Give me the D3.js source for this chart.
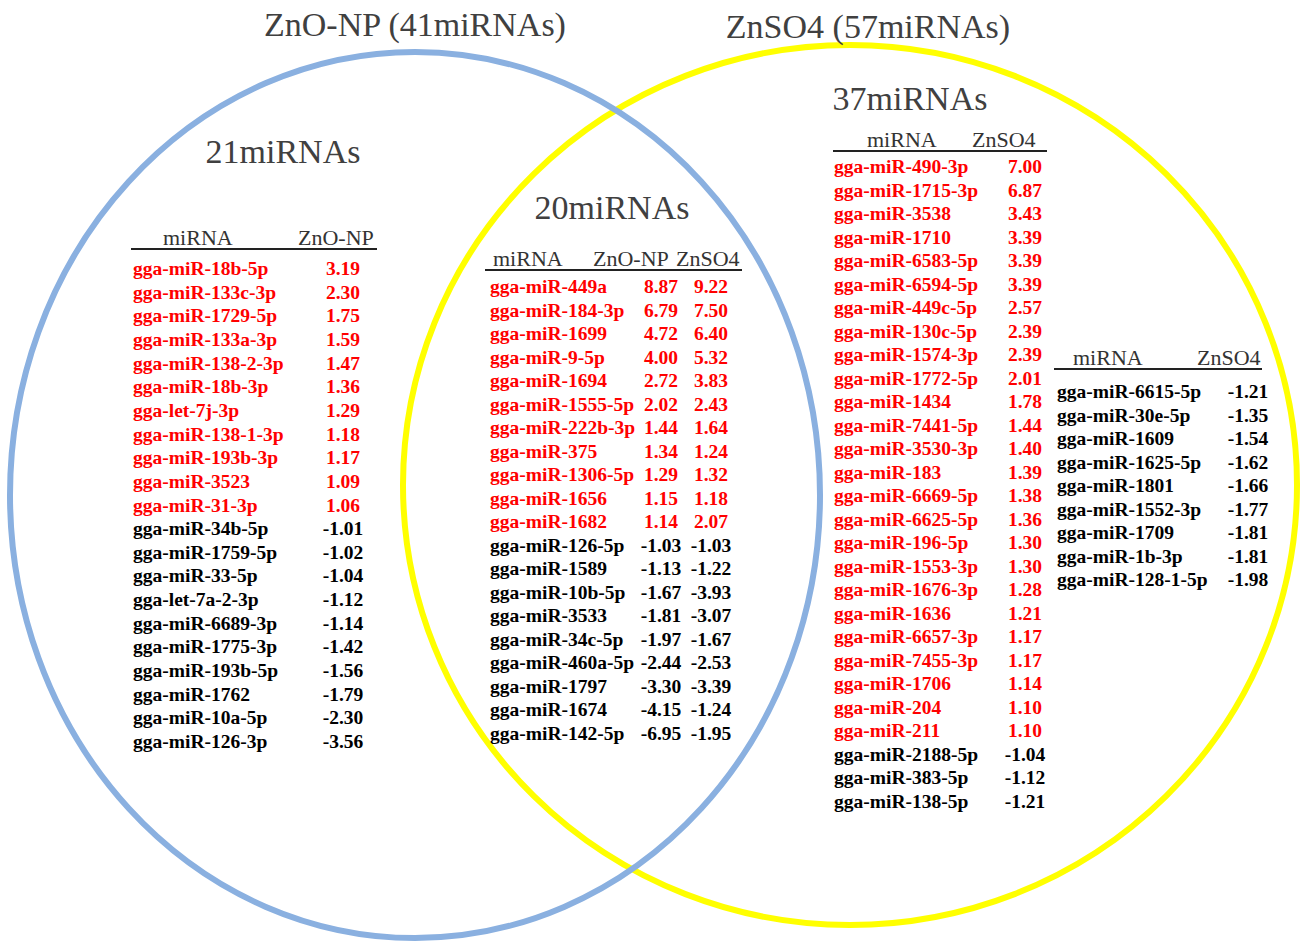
<!DOCTYPE html>
<meta charset="utf-8">
<style>
    body { margin: 0; background: #fff; }
    svg text { font-family: "Liberation Serif", "Times New Roman", serif; }
    .big { font-size: 34px; fill: #404040; }
    .hdr { font-size: 22px; fill: #333; }
    .row { font-size: 19.5px; font-weight: bold; }
</style>
<svg width="1309" height="943"></svg>
<script src="https://d3js.org/d3.v7.min.js"></script>
<script>
    // ZnO-NP only (21)
    var znoNames = ["gga-miR-18b-5p", "gga-miR-133c-3p", "gga-miR-1729-5p", "gga-miR-133a-3p", "gga-miR-138-2-3p",
        "gga-miR-18b-3p", "gga-let-7j-3p", "gga-miR-138-1-3p", "gga-miR-193b-3p", "gga-miR-3523", "gga-miR-31-3p",
        "gga-miR-34b-5p", "gga-miR-1759-5p", "gga-miR-33-5p", "gga-let-7a-2-3p", "gga-miR-6689-3p", "gga-miR-1775-3p",
        "gga-miR-193b-5p", "gga-miR-1762", "gga-miR-10a-5p", "gga-miR-126-3p"];
    var znoFC = ["3.19", "2.30", "1.75", "1.59", "1.47", "1.36", "1.29", "1.18", "1.17", "1.09", "1.06",
        "-1.01", "-1.02", "-1.04", "-1.12", "-1.14", "-1.42", "-1.56", "-1.79", "-2.30", "-3.56"];

    // shared (20)
    var sharedNames = ["gga-miR-449a", "gga-miR-184-3p", "gga-miR-1699", "gga-miR-9-5p", "gga-miR-1694", "gga-miR-1555-5p",
        "gga-miR-222b-3p", "gga-miR-375", "gga-miR-1306-5p", "gga-miR-1656", "gga-miR-1682", "gga-miR-126-5p",
        "gga-miR-1589", "gga-miR-10b-5p", "gga-miR-3533", "gga-miR-34c-5p", "gga-miR-460a-5p", "gga-miR-1797",
        "gga-miR-1674", "gga-miR-142-5p"];
    var sharedZnO = ["8.87", "6.79", "4.72", "4.00", "2.72", "2.02", "1.44", "1.34", "1.29", "1.15", "1.14",
        "-1.03", "-1.13", "-1.67", "-1.81", "-1.97", "-2.44", "-3.30", "-4.15", "-6.95"];
    var sharedZnSO4 = ["9.22", "7.50", "6.40", "5.32", "3.83", "2.43", "1.64", "1.24", "1.32", "1.18", "2.07",
        "-1.03", "-1.22", "-3.93", "-3.07", "-1.67", "-2.53", "-3.39", "-1.24", "-1.95"];

    // ZnSO4 only (37) - first column
    var znso4Names = ["gga-miR-490-3p", "gga-miR-1715-3p", "gga-miR-3538", "gga-miR-1710", "gga-miR-6583-5p",
        "gga-miR-6594-5p", "gga-miR-449c-5p", "gga-miR-130c-5p", "gga-miR-1574-3p", "gga-miR-1772-5p", "gga-miR-1434",
        "gga-miR-7441-5p", "gga-miR-3530-3p", "gga-miR-183", "gga-miR-6669-5p", "gga-miR-6625-5p", "gga-miR-196-5p",
        "gga-miR-1553-3p", "gga-miR-1676-3p", "gga-miR-1636", "gga-miR-6657-3p", "gga-miR-7455-3p", "gga-miR-1706",
        "gga-miR-204", "gga-miR-211", "gga-miR-2188-5p", "gga-miR-383-5p", "gga-miR-138-5p"];
    var znso4FC = ["7.00", "6.87", "3.43", "3.39", "3.39", "3.39", "2.57", "2.39", "2.39", "2.01", "1.78",
        "1.44", "1.40", "1.39", "1.38", "1.36", "1.30", "1.30", "1.28", "1.21", "1.17", "1.17", "1.14",
        "1.10", "1.10", "-1.04", "-1.12", "-1.21"];

    // ZnSO4 only - second column
    var znso4DownNames = ["gga-miR-6615-5p", "gga-miR-30e-5p", "gga-miR-1609", "gga-miR-1625-5p", "gga-miR-1801",
        "gga-miR-1552-3p", "gga-miR-1709", "gga-miR-1b-3p", "gga-miR-128-1-5p"];
    var znso4DownFC = ["-1.21", "-1.35", "-1.54", "-1.62", "-1.66", "-1.77", "-1.81", "-1.81", "-1.98"];

    var sets = [
        {name: "ZnSO4 (57miRNAs)", cx: 850, cy: 485, rx: 447, ry: 440, color: "#ffff00", tx: 868, ty: 38},
        {name: "ZnO-NP (41miRNAs)", cx: 415, cy: 495, rx: 405, ry: 443, color: "#8ab0e0", tx: 415, ty: 36}
    ];

    var svg = d3.select("svg");

    svg.selectAll("ellipse")
        .data(sets)
        .enter()
        .append("ellipse")
        .attr("cx", function (d) { return d.cx; })
        .attr("cy", function (d) { return d.cy; })
        .attr("rx", function (d) { return d.rx; })
        .attr("ry", function (d) { return d.ry; })
        .attr("fill", "none")
        .attr("stroke", function (d) { return d.color; })
        .attr("stroke-width", 6);

    svg.selectAll("text.title")
        .data(sets)
        .enter()
        .append("text")
        .attr("class", "big title")
        .attr("x", function (d) { return d.tx; })
        .attr("y", function (d) { return d.ty; })
        .attr("text-anchor", "middle")
        .text(function (d) { return d.name; });

    var counts = [
        {label: "21miRNAs", x: 283, y: 163},
        {label: "20miRNAs", x: 612, y: 219},
        {label: "37miRNAs", x: 910, y: 110}
    ];
    svg.selectAll("text.count")
        .data(counts)
        .enter()
        .append("text")
        .attr("class", "big count")
        .attr("x", function (d) { return d.x; })
        .attr("y", function (d) { return d.y; })
        .attr("text-anchor", "middle")
        .text(function (d) { return d.label; });

    // table: names + one or more value columns
    function drawTable(t) {
        var g = svg.append("g");
        var y = d3.scalePoint().domain(t.names).range([t.y0, t.y1]);

        t.headers.forEach(function (h) {
            g.append("text").attr("class", "hdr")
                .attr("x", h.x).attr("y", t.hy)
                .text(h.text);
        });
        g.append("line")
            .attr("x1", t.lx0).attr("x2", t.lx1)
            .attr("y1", t.hy + 4).attr("y2", t.hy + 4)
            .attr("stroke", "#222").attr("stroke-width", 2);

        // up-regulated rows in red
        var colour = function (i) { return +t.cols[0].values[i] > 0 ? "#ff0000" : "#000"; };

        g.selectAll("text.name")
            .data(t.names)
            .enter()
            .append("text")
            .attr("class", "row name")
            .attr("x", t.nx)
            .attr("y", function (d) { return y(d) + 6; })
            .attr("fill", function (d, i) { return colour(i); })
            .text(function (d) { return d; });

        t.cols.forEach(function (c) {
            g.selectAll(null)
                .data(c.values)
                .enter()
                .append("text")
                .attr("class", "row")
                .attr("x", c.x)
                .attr("y", function (d, i) { return y(t.names[i]) + 6; })
                .attr("text-anchor", "middle")
                .attr("fill", function (d, i) { return colour(i); })
                .text(function (d) { return d; });
        });
    }

    drawTable({
        names: znoNames, y0: 269, y1: 742, nx: 133,
        cols: [{values: znoFC, x: 343}],
        hy: 245, lx0: 131, lx1: 377,
        headers: [{text: "miRNA", x: 163}, {text: "ZnO-NP", x: 298}]
    });

    drawTable({
        names: sharedNames, y0: 287, y1: 734, nx: 490,
        cols: [{values: sharedZnO, x: 661}, {values: sharedZnSO4, x: 711}],
        hy: 266, lx0: 485, lx1: 742,
        headers: [{text: "miRNA", x: 493}, {text: "ZnO-NP", x: 593}, {text: "ZnSO4", x: 676}]
    });

    drawTable({
        names: znso4Names, y0: 167, y1: 802, nx: 834,
        cols: [{values: znso4FC, x: 1025}],
        hy: 147, lx0: 833, lx1: 1047,
        headers: [{text: "miRNA", x: 867}, {text: "ZnSO4", x: 972}]
    });

    drawTable({
        names: znso4DownNames, y0: 392, y1: 580, nx: 1057,
        cols: [{values: znso4DownFC, x: 1248}],
        hy: 365, lx0: 1054, lx1: 1262,
        headers: [{text: "miRNA", x: 1073}, {text: "ZnSO4", x: 1197}]
    });
</script>
